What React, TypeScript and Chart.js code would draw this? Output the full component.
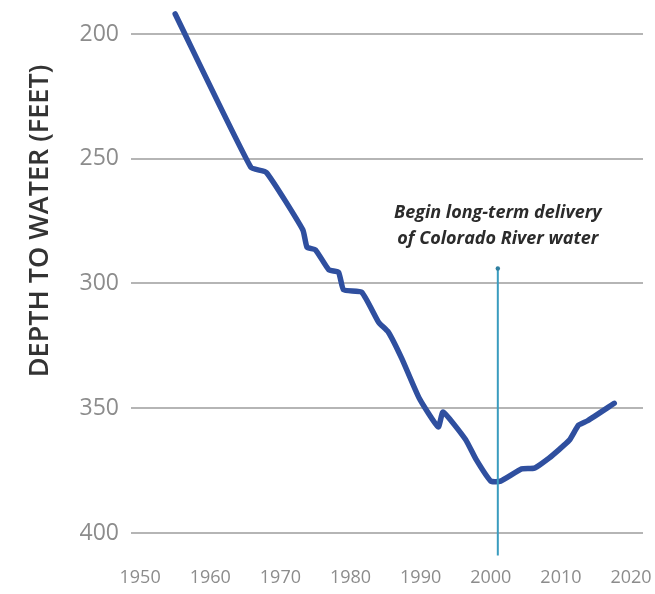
import React, { useEffect, useRef } from "react";
import { Chart, registerables } from "chart.js";
Chart.register(...registerables);

const years = [1955, 1965.8, 1968, 1973.2, 1973.8, 1975, 1976.9, 1978.3, 1979, 1981.6, 1984, 1985.4, 1987.3, 1989.8, 1992.5, 1993.2, 1996.4, 1997.9, 2000, 2001.4, 2004.4, 2006.2, 2008.3, 2011.2, 2012.5, 2013.8, 2017.6];
const depthFeet = [192, 253.5, 255.5, 278.5, 285.5, 286.5, 294.5, 295.5, 302.5, 303.5, 315.5, 319.5, 330, 346, 357.5, 351.5, 362.5, 370.5, 379.2, 379.2, 374.3, 374, 370, 362.8, 356.8, 355, 348];
const yTicks = [200, 250, 300, 350, 400];
const xTicks = [1950, 1960, 1970, 1980, 1990, 2000, 2010, 2020];
const annotationYear = 2001;
const annotationTop = 294;
const annotationBottom = 409;
const annotationLines = ["Begin long-term delivery", "of Colorado River water"];
const yTitle = "DEPTH TO WATER (FEET)";

export default function App() {
  const ref = useRef<HTMLCanvasElement>(null);
  useEffect(() => {
    document.body.style.margin = "0";
    const annotation = {
      id: "annotation",
      afterDatasetsDraw(chart: any) {
        const { ctx, scales } = chart;
        const x = scales.x.getPixelForValue(annotationYear);
        const y1 = scales.y.getPixelForValue(annotationTop);
        const y2 = scales.y.getPixelForValue(annotationBottom);
        ctx.save();
        ctx.strokeStyle = "#3a9cbf";
        ctx.lineWidth = 2;
        ctx.beginPath();
        ctx.moveTo(x, y1);
        ctx.lineTo(x, y2);
        ctx.stroke();
        ctx.fillStyle = "#2f7fa0";
        ctx.beginPath();
        ctx.arc(x, y1, 2.2, 0, Math.PI * 2);
        ctx.fill();
        ctx.fillStyle = "#2b2b2b";
        ctx.font = 'italic bold 18px "Open Sans"';
        ctx.textAlign = "center";
        ctx.textBaseline = "middle";
        ctx.fillText(annotationLines[0], x, y1 - 56);
        ctx.fillText(annotationLines[1], x, y1 - 30);
        // y axis title
        ctx.translate(40, 221);
        ctx.rotate(-Math.PI / 2);
        ctx.fillStyle = "#333333";
        ctx.font = '600 27px "Open Sans"';
        ctx.fillText(yTitle, 0, 0);
        ctx.restore();
      },
    };
    const chart = new Chart(ref.current!, {
      type: "line",
      data: {
        datasets: [
          {
            data: years.map((y, i) => ({ x: y, y: depthFeet[i] })),
            borderColor: "#2f4f9f",
            borderWidth: 5.5,
            pointRadius: 0,
            tension: 0.15,
            borderJoinStyle: "round",
            borderCapStyle: "round",
            clip: false as any,
          },
        ],
      },
      options: {
        responsive: false,
        animation: false,
        layout: { padding: { top: 9, right: 12, left: 0, bottom: 0 } },
        plugins: { legend: { display: false }, tooltip: { enabled: false } },
        scales: {
          x: {
            type: "linear",
            min: 1948.7,
            max: 2021.7,
            afterBuildTicks: (s: any) => {
              s.ticks = xTicks.map((v) => ({ value: v }));
            },
            afterFit: (s: any) => {
              s.height = 41;
              s.paddingLeft = 0;
              s.paddingRight = 0;
            },
            grid: { display: false, drawTicks: false },
            border: { display: false },
            ticks: {
              padding: 14,
              color: "#8c8c8c",
              font: { family: "Open Sans", size: 18 },
              callback: (v: any) => String(v),
            },
          },
          y: {
            type: "linear",
            reverse: true,
            min: 190,
            max: 408,
            afterBuildTicks: (s: any) => {
              s.ticks = yTicks.map((v) => ({ value: v }));
            },
            afterFit: (s: any) => {
              s.width = 131;
              s.paddingTop = 0;
              s.paddingBottom = 0;
            },
            grid: { color: "#b5b5b5", lineWidth: 2, drawTicks: false },
            border: { display: false },
            ticks: {
              padding: 12,
              color: "#8c8c8c",
              font: { family: "Open Sans", size: 23 },
              callback: (v: any) => String(v),
            },
          },
        },
      },
      plugins: [annotation],
    });
    return () => chart.destroy();
  }, []);
  return (
    <div style={{ width: 655, height: 594 }}>
      <canvas ref={ref} width={655} height={594} />
    </div>
  );
}
